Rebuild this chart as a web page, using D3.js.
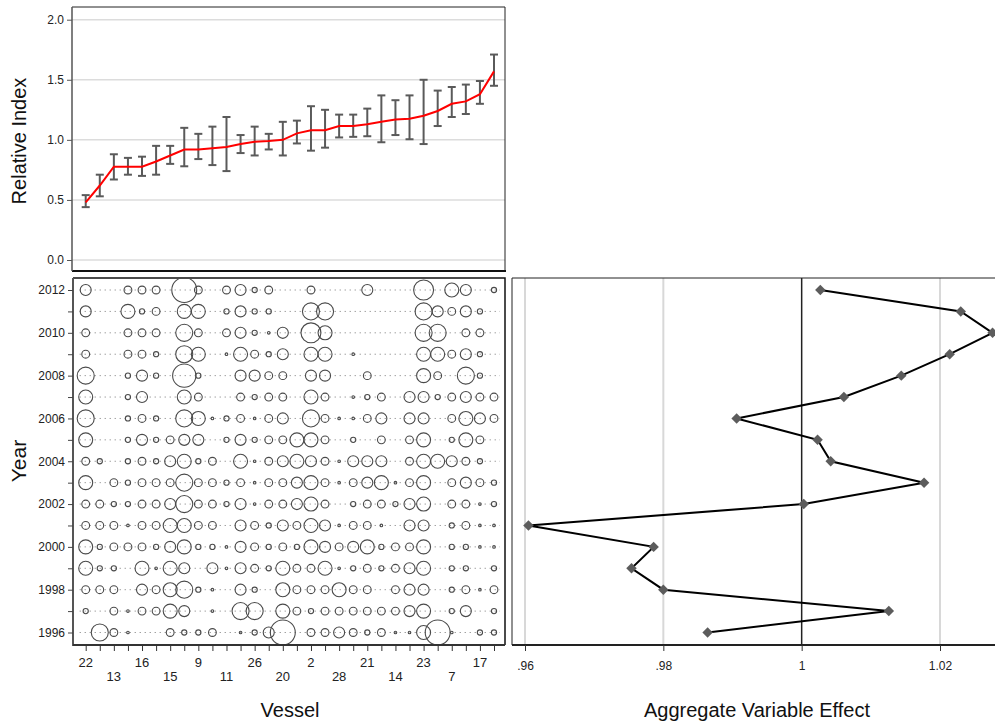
<!DOCTYPE html>
<html><head><meta charset="utf-8">
<script src="https://cdn.jsdelivr.net/npm/d3@7"></script>
<style>body{margin:0;background:#fff}svg{display:block;font-family:"Liberation Sans",Arial,sans-serif}</style>
</head><body>
<svg id="c" width="995" height="725"></svg>
<script>
// ---- Top panel: relative index per vessel (sorted) ----
const relIndex = [0.48,0.62,0.777,0.777,0.777,0.82,0.87,0.92,0.92,0.93,0.94,0.965,0.985,0.99,1.0,1.054,1.08,1.08,1.115,1.115,1.13,1.15,1.17,1.175,1.2,1.24,1.30,1.32,1.38,1.57];
const relLow   = [0.44,0.53,0.67,0.71,0.70,0.71,0.80,0.78,0.84,0.79,0.74,0.89,0.87,0.92,0.87,0.97,0.91,0.935,1.02,1.025,1.03,0.98,1.04,1.005,0.965,1.115,1.19,1.215,1.30,1.45];
const relHigh  = [0.54,0.71,0.88,0.85,0.86,0.95,0.95,1.10,1.05,1.11,1.19,1.04,1.11,1.05,1.15,1.16,1.28,1.25,1.21,1.21,1.26,1.37,1.33,1.37,1.50,1.41,1.44,1.46,1.49,1.71];
const relTicks = [0,0.5,1,1.5,2];

// ---- Vessel axis labels (every other vessel labelled) ----
const vesselLabels = ["22","","13","","16","","15","","9","","11","","26","","20","","2","","28","","21","","14","","23","","7","","17",""];

// ---- Bubble panel: weight per vessel column, one array per year ----
const years = [2012,2011,2010,2009,2008,2007,2006,2005,2004,2003,2002,2001,2000,1999,1998,1997,1996];
const w2012 = [18,0,0,9,9,9,0,92,9,0,9,18,4,9,0,0,9,0,0,0,18,0,0,0,59,0,29,18,0,4];
const w2011 = [18,0,0,29,4,9,0,29,29,0,4,18,4,4,0,0,43,43,0,0,0,0,0,0,43,18,9,18,4,0];
const w2010 = [9,0,0,9,9,9,0,43,9,0,9,18,4,1,18,0,59,29,0,0,0,0,0,0,43,43,0,9,9,0];
const w2009 = [9,0,0,9,9,4,0,43,29,0,1,29,9,4,18,0,29,29,0,1,0,0,0,0,29,29,9,18,4,0];
const w2008 = [43,0,0,4,18,4,0,80,4,0,0,18,18,9,9,0,18,18,0,0,9,0,0,0,29,9,0,43,4,0];
const w2007 = [29,0,0,4,18,0,0,29,9,0,0,9,4,9,9,0,29,9,0,1,4,9,0,18,18,4,9,18,9,9];
const w2006 = [43,0,0,4,9,4,0,43,29,1,4,9,1,9,18,0,43,9,1,1,9,18,0,18,18,0,9,29,18,9];
const w2005 = [29,0,0,4,18,4,9,18,18,0,4,18,4,9,9,29,29,9,0,4,0,9,0,9,29,0,4,29,9,0];
const w2004 = [9,4,0,4,9,4,18,29,4,9,0,29,1,9,18,29,18,9,1,18,18,18,0,9,29,29,18,9,4,0];
const w2003 = [29,0,9,4,9,9,9,43,9,9,4,9,1,9,9,18,29,9,1,9,18,29,1,9,29,0,9,18,9,4];
const w2002 = [9,9,4,4,9,9,18,43,9,9,4,18,1,9,9,18,29,9,0,4,9,9,4,18,29,0,9,9,1,4];
const w2001 = [9,9,9,1,9,9,29,29,9,9,0,18,9,4,18,9,29,18,1,9,9,1,0,18,18,0,4,9,1,1];
const w2000 = [29,4,9,9,9,4,18,29,4,4,1,18,9,4,9,4,29,18,9,18,29,4,9,9,29,0,4,4,1,1];
const w1999 = [29,4,4,0,29,1,29,18,0,18,1,18,9,4,29,9,9,29,1,4,9,4,9,18,29,0,4,4,0,4];
const w1998 = [9,9,9,0,18,9,29,43,4,1,0,18,4,0,29,9,9,9,29,9,9,0,9,18,18,0,4,9,1,9];
const w1997 = [4,0,9,1,9,9,29,18,0,1,0,43,43,0,29,9,4,9,9,9,9,9,9,18,29,0,4,18,0,4];
const w1996 = [0,43,9,1,0,0,9,4,4,9,0,1,4,18,92,0,9,9,18,9,4,9,1,1,29,92,1,0,4,4];
const weights = [w2012,w2011,w2010,w2009,w2008,w2007,w2006,w2005,w2004,w2003,w2002,w2001,w2000,w1999,w1998,w1997,w1996];
const yearTicks = [1996,1998,2000,2002,2004,2006,2008,2010,2012];

// ---- Right panel: aggregate variable effect by year ----
const effYears = [2012,2011,2010,2009,2008,2007,2006,2005,2004,2003,2002,2001,2000,1999,1998,1997,1996];
const effect   = [1.0027,1.023,1.0276,1.0214,1.0144,1.0061,0.9906,1.0023,1.0042,1.0177,1.0003,0.9605,0.9786,0.9754,0.9800,1.0126,0.9864];
const effTicks = [0.96,0.98,1,1.02];
const effTickLabels = [".96",".98","1","1.02"];

const svg = d3.select("#c");
const font = '"Liberation Sans",Arial,sans-serif';

// shared vessel x scale
const x = d3.scaleLinear().domain([0,29]).range([85.7,494]);

// ===== TOP PANEL =====
const yTop = d3.scaleLinear().domain([0,2]).range([260,19.7]);
const topG = svg.append("g");
topG.selectAll("line.g").data(relTicks).join("line")
  .attr("x1",72).attr("x2",505).attr("y1",d=>yTop(d)).attr("y2",d=>yTop(d))
  .attr("stroke","#dcdcdc").attr("stroke-width",1.5);
topG.append("path").attr("d","M72,7H505V271").attr("fill","none").attr("stroke","#222").attr("stroke-width",1);
topG.append("line").attr("x1",72).attr("x2",506).attr("y1",271).attr("y2",271).attr("stroke","#111").attr("stroke-width",2);
const yAxisTop = d3.axisLeft(yTop).tickValues(relTicks).tickFormat(d3.format(".1f")).tickSize(5).tickPadding(3);
const gy = topG.append("g").attr("transform","translate(72,0)").call(yAxisTop);
gy.select(".domain").attr("d","M0,7V271").attr("stroke","#555").attr("stroke-width",1.5);
gy.selectAll(".tick line").attr("stroke","#555");
gy.selectAll("text").attr("font-size",12).attr("font-family",font).attr("fill","#222");
const eb = topG.append("g").attr("stroke","#5a5a5a").attr("stroke-width",2).attr("fill","none");
relIndex.forEach((v,i)=>{
  const cx = x(i);
  eb.append("line").attr("x1",cx).attr("x2",cx).attr("y1",yTop(relLow[i])).attr("y2",yTop(relHigh[i]));
  eb.append("line").attr("x1",cx-4).attr("x2",cx+4).attr("y1",yTop(relLow[i])).attr("y2",yTop(relLow[i]));
  eb.append("line").attr("x1",cx-4).attr("x2",cx+4).attr("y1",yTop(relHigh[i])).attr("y2",yTop(relHigh[i]));
});
topG.append("path").datum(relIndex)
  .attr("d",d3.line().x((d,i)=>x(i)).y(d=>yTop(d)))
  .attr("fill","none").attr("stroke","#ff0000").attr("stroke-width",2);
svg.append("text").attr("transform","translate(26,141) rotate(-90)").attr("text-anchor","middle")
  .attr("font-size",20).attr("font-family",font).attr("fill","#111").text("Relative Index");

// ===== BUBBLE PANEL =====
const yB = d3.scaleLinear().domain([1996,2012]).range([632.5,290]);
const r = d3.scaleSqrt().domain([0,100]).range([0,13]);
const bub = svg.append("g");
bub.append("path").attr("d","M73,278H505V645").attr("fill","none").attr("stroke","#111").attr("stroke-width",1.5);
bub.selectAll("line.row").data(years).join("line")
  .attr("x1",x(0)-6).attr("x2",x(29)+6).attr("y1",d=>yB(d)).attr("y2",d=>yB(d))
  .attr("stroke","#777").attr("stroke-width",1).attr("stroke-dasharray","1,4");
const cells = [];
weights.forEach((row,yi)=>row.forEach((w,ci)=>{ if(w>0) cells.push({year:years[yi],col:ci,w}); }));
bub.selectAll("circle").data(cells).join("circle")
  .attr("cx",d=>x(d.col)).attr("cy",d=>yB(d.year)).attr("r",d=>Math.max(1.2,r(d.w)))
  .attr("fill","none").attr("stroke","#4a4a4a").attr("stroke-width",1.1);
const yAxB = d3.axisLeft(yB).tickValues(d3.range(1996,2013)).tickFormat(d=>yearTicks.includes(d)?String(d):"").tickSize(5).tickPadding(3);
const gyb = bub.append("g").attr("transform","translate(73,0)").call(yAxB);
gyb.select(".domain").attr("d","M0,278V646").attr("stroke","#555").attr("stroke-width",2);
gyb.selectAll(".tick line").attr("stroke","#444");
gyb.selectAll("text").attr("font-size",12).attr("font-family",font).attr("fill","#222");
const xAxB = d3.axisBottom(x).tickValues(d3.range(30)).tickFormat("").tickSize(6);
const gxb = bub.append("g").attr("transform","translate(0,645)").call(xAxB);
gxb.select(".domain").attr("d","M73,0H505").attr("stroke","#333").attr("stroke-width",2);
gxb.selectAll(".tick line").attr("stroke","#333");
bub.selectAll("text.vl").data(vesselLabels.map((l,i)=>({l,i})).filter(d=>d.l!=="")).join("text")
  .attr("x",d=>x(d.i)).attr("y",(d,k)=>k%2===0?667:681).attr("text-anchor","middle")
  .attr("font-size",13).attr("font-family",font).attr("fill","#222").text(d=>d.l);
svg.append("text").attr("transform","translate(26,461) rotate(-90)").attr("text-anchor","middle")
  .attr("font-size",21).attr("font-family",font).attr("fill","#111").text("Year");
svg.append("text").attr("x",290).attr("y",717).attr("text-anchor","middle")
  .attr("font-size",20).attr("font-family",font).attr("fill","#111").text("Vessel");

// ===== RIGHT PANEL =====
const xR = d3.scaleLinear().domain([0.96,1.02]).range([525,940]);
const rp = svg.append("g");
rp.selectAll("line.g").data(effTicks.filter(d=>d!==1)).join("line")
  .attr("x1",d=>xR(d)).attr("x2",d=>xR(d)).attr("y1",278).attr("y2",645)
  .attr("stroke","#d8d8d8").attr("stroke-width",2);
rp.append("line").attr("x1",xR(1)).attr("x2",xR(1)).attr("y1",278).attr("y2",645).attr("stroke","#222").attr("stroke-width",1.5);
rp.append("path").attr("d","M512,645V278H995").attr("fill","none").attr("stroke","#222").attr("stroke-width",1);
const xAxR = d3.axisBottom(xR).tickValues(effTicks).tickFormat((d,i)=>effTickLabels[i]).tickSize(6).tickPadding(10);
const gxr = rp.append("g").attr("transform","translate(0,645)").call(xAxR);
gxr.select(".domain").attr("d","M512,0H995").attr("stroke","#222").attr("stroke-width",2);
gxr.selectAll(".tick line").attr("stroke","#333");
gxr.selectAll("text").attr("font-size",12).attr("font-family",font).attr("fill","#222");
const eff = effYears.map((yv,i)=>({year:yv,v:effect[i]}));
rp.append("path").datum(eff).attr("d",d3.line().x(d=>xR(d.v)).y(d=>yB(d.year)))
  .attr("fill","none").attr("stroke","#000").attr("stroke-width",2);
rp.selectAll("path.m").data(eff).join("path")
  .attr("d",d3.symbol(d3.symbolDiamond2,70))
  .attr("transform",d=>`translate(${xR(d.v)},${yB(d.year)})`).attr("fill","#5c5c5c");
svg.append("text").attr("x",757).attr("y",717).attr("text-anchor","middle")
  .attr("font-size",20).attr("font-family",font).attr("fill","#111").text("Aggregate Variable Effect");
</script>
</body></html>
